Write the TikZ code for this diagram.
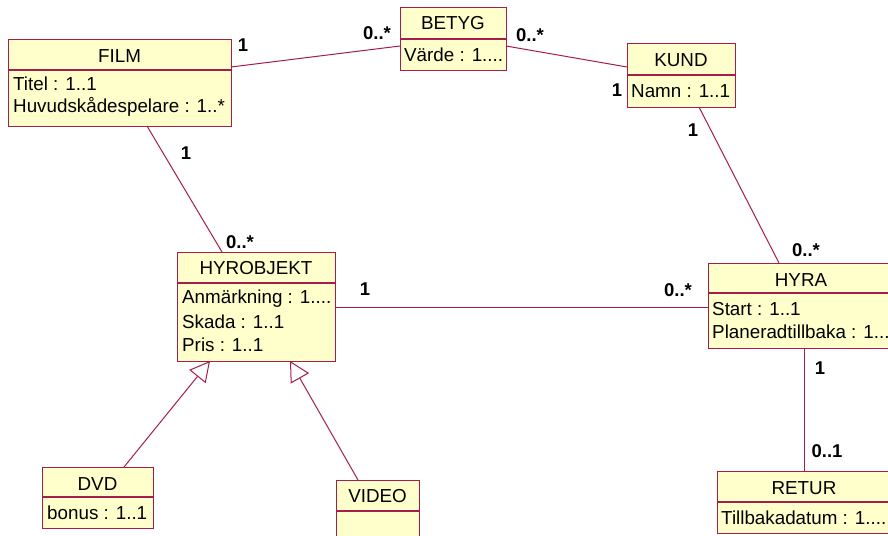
\documentclass[tikz,border=0pt]{standalone}
\usepackage{fontspec}
\setmainfont{Liberation Sans}
\usetikzlibrary{arrows.meta}
\definecolor{umlline}{RGB}{165,30,75}
\definecolor{umlfill}{RGB}{255,255,204}
\begin{document}
\begin{tikzpicture}[x=1pt,y=-1pt,
  cls/.style={draw=umlline, line width=1.3pt, fill=umlfill, inner sep=0pt, anchor=north west},
  hdr/.style={font=\fontsize{18.8}{21}\selectfont, inner sep=0pt},
  attr/.style={font=\fontsize{18.8}{21}\selectfont, inner sep=0pt, anchor=west},
  mult/.style={font=\fontsize{18.5}{21}\selectfont\bfseries, inner sep=0pt},
  conn/.style={draw=umlline, line width=1pt},
  gen/.style={conn, -{Triangle[open, length=20pt, width=21pt, line width=1pt]}}
]
\useasboundingbox (0,0) rectangle (888,535);
\fill[white] (0,0) rectangle (888,535);

% FILM
\node[cls, minimum width=223pt, minimum height=87pt] (film) at (8,39) {};
\draw[umlline, line width=1.3pt] (8,70) -- (231,70);
\node[hdr] (filmN) at (119.5,56) {FILM};
\node[attr] (filmA1) at (13,84) {Titel : 1..1};
\node[attr] (filmA2) at (13,107) {Huvudskådespelare : 1..*};

% BETYG
\node[cls, minimum width=106pt, minimum height=63pt] (betyg) at (400,7) {};
\draw[umlline, line width=1.3pt] (400,39) -- (506,39);
\node[hdr] (betygN) at (453,23) {BETYG};
\node[attr] (betygA1) at (404,55) {Värde : 1....};

% KUND
\node[cls, minimum width=108pt, minimum height=64pt] (kund) at (627,43) {};
\draw[umlline, line width=1.3pt] (627,75) -- (735,75);
\node[hdr] (kundN) at (681,60) {KUND};
\node[attr] (kundA1) at (631,91) {Namn : 1..1};

% HYROBJEKT
\node[cls, minimum width=158pt, minimum height=109pt] (hyrobj) at (177,252) {};
\draw[umlline, line width=1.3pt] (177,283) -- (335,283);
\node[hdr] (hyrobjN) at (256,268) {HYROBJEKT};
\node[attr] (hyrobjA1) at (182,299) {Anmärkning : 1....};
\node[attr] (hyrobjA2) at (182,322) {Skada : 1..1};
\node[attr] (hyrobjA3) at (182,345) {Pris : 1..1};

% HYRA
\node[cls, minimum width=190pt, minimum height=85pt] (hyra) at (708,263) {};
\draw[umlline, line width=1.3pt] (708,293) -- (898,293);
\node[hdr] (hyraN) at (801,280) {HYRA};
\node[attr] (hyraA1) at (712,309) {Start : 1..1};
\node[attr] (hyraA2) at (712,332) {Planeradtillbaka : 1...};

% RETUR
\node[cls, minimum width=180pt, minimum height=62pt] (retur) at (717,471) {};
\draw[umlline, line width=1.3pt] (717,502) -- (897,502);
\node[hdr] (returN) at (804,488) {RETUR};
\node[attr] (returA1) at (721,518) {Tillbakadatum : 1....};

% DVD
\node[cls, minimum width=111pt, minimum height=61pt] (dvd) at (42,467) {};
\draw[umlline, line width=1.3pt] (42,497) -- (153,497);
\node[hdr] (dvdN) at (97.5,484) {DVD};
\node[attr] (dvdA1) at (47,513) {bonus : 1..1};

% VIDEO
\node[cls, minimum width=83pt, minimum height=70pt] (video) at (336,480) {};
\draw[umlline, line width=1.3pt] (336,511) -- (419,511);
\node[hdr] (videoN) at (377.5,496) {VIDEO};

% connector end points
\coordinate (fb1) at (231,67);
\coordinate (fb2) at (400,46);
\coordinate (bk1) at (506,46);
\coordinate (bk2) at (627,67);
\coordinate (kh1) at (699,107);
\coordinate (kh2) at (779,263);
\coordinate (fh1) at (147,126);
\coordinate (fh2) at (222,252);
\coordinate (hh1) at (335,307);
\coordinate (hh2) at (708,307);
\coordinate (hr1) at (804,348);
\coordinate (hr2) at (804,471);
\coordinate (dv1) at (124,467);
\coordinate (dv2) at (210,361);
\coordinate (vi1) at (358,480);
\coordinate (vi2) at (290,361);

\draw[conn] (fb1) -- (fb2);
\draw[conn] (bk1) -- (bk2);
\draw[conn] (kh1) -- (kh2);
\draw[conn] (fh1) -- (fh2);
\draw[conn] (hh1) -- (hh2);
\draw[conn] (hr1) -- (hr2);
\draw[gen] (dv1) -- (dv2);
\draw[gen] (vi1) -- (vi2);

% multiplicities
\node[mult] (m1) at (243,45) {1};
\node[mult] (m2) at (377,33) {0..*};
\node[mult] (m3) at (530,35) {0..*};
\node[mult] (m4) at (617,90) {1};
\node[mult] (m5) at (693,130) {1};
\node[mult] (m6) at (806,250) {0..*};
\node[mult] (m7) at (186,153) {1};
\node[mult] (m8) at (240,242) {0..*};
\node[mult] (m9) at (365,289) {1};
\node[mult] (m10) at (678,290) {0..*};
\node[mult] (m11) at (820,368) {1};
\node[mult] (m12) at (827,451) {0..1};
\end{tikzpicture}
\end{document}
